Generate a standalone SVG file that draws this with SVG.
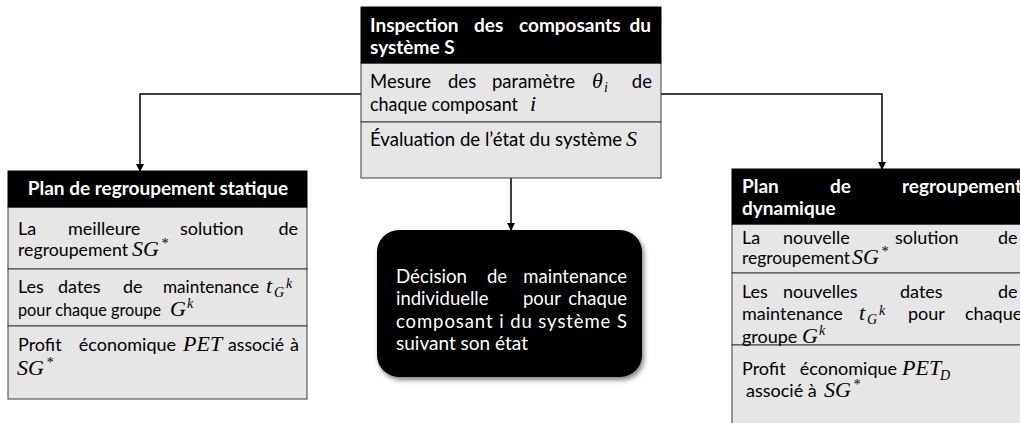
<svg xmlns="http://www.w3.org/2000/svg" width="1020" height="423" viewBox="0 0 1020 423">
<style>
.t{font-family:Lato,"Open Sans",sans-serif;font-size:18px;fill:#000}
.c{font-size:18.5px}
.b{font-weight:bold;fill:#fff;font-size:19px}
.w{fill:#fff}
.e{text-anchor:end}
.m{font-family:"Liberation Serif","DejaVu Serif",serif;font-style:italic;font-size:22px;fill:#000}
.s{font-family:"Liberation Serif","DejaVu Serif",serif;font-style:italic;font-size:14px;fill:#000}
.hd{fill:#000;stroke:#000;stroke-width:1}
.row{fill:#e6e6e6;stroke:#3a3a3a;stroke-width:1}
.con{fill:none;stroke:#000;stroke-width:1.5}
</style>
<defs>
<marker id="arr" markerWidth="8" markerHeight="8" refX="7" refY="4" orient="auto" markerUnits="userSpaceOnUse">
<path d="M0,0 L8,4 L0,8 Z" fill="#000"/>
</marker>
<filter id="sh" x="-10%" y="-10%" width="125%" height="130%">
<feGaussianBlur in="SourceAlpha" stdDeviation="2.5"/>
<feOffset dx="2" dy="3" result="o"/>
<feComponentTransfer><feFuncA type="linear" slope="0.5"/></feComponentTransfer>
<feMerge><feMergeNode/><feMergeNode in="SourceGraphic"/></feMerge>
</filter>
</defs>
<rect width="1020" height="423" fill="#fff"/>

<g id="connectors">
<path class="con" d="M361,94 H140 V171" marker-end="url(#arr)"/>
<path class="con" d="M661,94 H882 V169" marker-end="url(#arr)"/>
<path class="con" d="M511,178 V230" marker-end="url(#arr)"/>
</g>

<g id="inspection">
<rect class="row" x="361" y="63" width="300" height="59"/>
<rect class="row" x="361" y="122" width="300" height="56"/>
<rect class="hd" x="361" y="7" width="300" height="56"/>
<text class="t b" x="370" y="32">Inspection</text>
<text class="t b" x="474" y="32">des</text>
<text class="t b" x="519" y="32">composants</text>
<text class="t b e" x="651" y="32">du</text>
<text class="t b" x="370" y="54">système S</text>
<text class="t c" x="370" y="88">Mesure</text>
<text class="t c" x="448" y="88">des</text>
<text class="t c" x="492" y="88">paramètre</text>
<text class="m" x="592" y="88">θ</text>
<text class="s" x="604" y="92">i</text>
<text class="t c e" x="652" y="88">de</text>
<text class="t c" x="370" y="111" textLength="148" lengthAdjust="spacingAndGlyphs">chaque composant</text>
<text class="m" x="530" y="111">i</text>
<text class="t c" x="370" y="146" textLength="252" lengthAdjust="spacingAndGlyphs">Évaluation de l’état du système</text>
<text class="m" x="626" y="146">S</text>
</g>

<g id="plan-statique">
<rect class="row" x="8" y="207" width="299" height="62"/>
<rect class="row" x="8" y="269" width="299" height="57"/>
<rect class="row" x="8" y="326" width="299" height="73"/>
<rect class="hd" x="8" y="171" width="299" height="36"/>
<text class="t b" x="158" y="195" text-anchor="middle">Plan de regroupement statique</text>
<text class="t" x="18" y="235">La</text>
<text class="t" x="68" y="235">meilleure</text>
<text class="t" x="180" y="235">solution</text>
<text class="t e" x="298" y="235">de</text>
<text class="t" x="18" y="256" textLength="110" lengthAdjust="spacingAndGlyphs">regroupement</text>
<text class="m" x="132" y="256">SG</text>
<text class="s" x="161" y="248">*</text>
<text class="t" x="18" y="293">Les</text>
<text class="t" x="58" y="293">dates</text>
<text class="t" x="123" y="293">de</text>
<text class="t" x="163" y="293" textLength="96" lengthAdjust="spacingAndGlyphs">maintenance</text>
<text class="m" x="266" y="293">t</text>
<text class="s" x="274" y="297">G</text>
<text class="s" x="286" y="288" font-size="12">k</text>
<text class="t" x="18" y="316" textLength="143" lengthAdjust="spacingAndGlyphs">pour chaque groupe</text>
<text class="m" x="170" y="316">G</text>
<text class="s" x="187" y="308">k</text>
<text class="t" x="18" y="351">Profit</text>
<text class="t e" x="176" y="351">économique</text>
<text class="m" x="183" y="351">PET</text>
<text class="t" x="228" y="351" textLength="56" lengthAdjust="spacingAndGlyphs">associé</text>
<text class="t e" x="299" y="351">à</text>
<text class="m" x="17" y="375">SG</text>
<text class="s" x="46" y="367">*</text>
</g>

<g id="decision">
<rect x="377" y="230" width="265" height="147" rx="22" fill="#000" filter="url(#sh)"/>
<text class="t c w" x="396" y="283" textLength="71" lengthAdjust="spacingAndGlyphs">Décision</text>
<text class="t c w" x="487" y="283">de</text>
<text class="t c w e" x="627" y="283">maintenance</text>
<text class="t c w" x="396" y="305">individuelle</text>
<text class="t c w" x="523" y="305">pour</text>
<text class="t c w e" x="627" y="305">chaque</text>
<text class="t c w" x="396" y="328" textLength="231" lengthAdjust="spacing">composant i du système S</text>
<text class="t c w" x="396" y="350" textLength="132" lengthAdjust="spacingAndGlyphs">suivant son état</text>
</g>

<g id="plan-dynamique">
<rect class="row" x="732" y="224" width="300" height="49"/>
<rect class="row" x="732" y="273" width="300" height="72"/>
<rect class="row" x="732" y="345" width="300" height="90"/>
<rect class="hd" x="732" y="169" width="300" height="55"/>
<text class="t b" x="742" y="193">Plan</text>
<text class="t b" x="830" y="193">de</text>
<text class="t b" x="902" y="193">regroupement</text>
<text class="t b" x="742" y="215">dynamique</text>
<text class="t" x="742" y="244">La</text>
<text class="t" x="783" y="244">nouvelle</text>
<text class="t" x="895" y="244">solution</text>
<text class="t" x="998" y="244">de</text>
<text class="t" x="742" y="264" textLength="108" lengthAdjust="spacingAndGlyphs">regroupement</text>
<text class="m" x="852" y="264">SG</text>
<text class="s" x="881" y="256">*</text>
<text class="t" x="742" y="298">Les</text>
<text class="t" x="783" y="298">nouvelles</text>
<text class="t" x="900" y="298">dates</text>
<text class="t" x="998" y="298">de</text>
<text class="t" x="742" y="320">maintenance</text>
<text class="m" x="859" y="320">t</text>
<text class="s" x="867" y="324">G</text>
<text class="s" x="879" y="315" font-size="12">k</text>
<text class="t" x="908" y="320">pour</text>
<text class="t" x="965" y="320">chaque</text>
<text class="t" x="742" y="343">groupe</text>
<text class="m" x="802" y="343">G</text>
<text class="s" x="819" y="335" font-size="13">k</text>
<text class="t" x="742" y="375">Profit</text>
<text class="t e" x="897" y="375">économique</text>
<text class="m" x="902" y="375">PET</text>
<text class="s" x="940" y="380">D</text>
<text class="t" x="746" y="397">associé à</text>
<text class="m" x="824" y="397">SG</text>
<text class="s" x="853" y="389">*</text>
</g>
</svg>
